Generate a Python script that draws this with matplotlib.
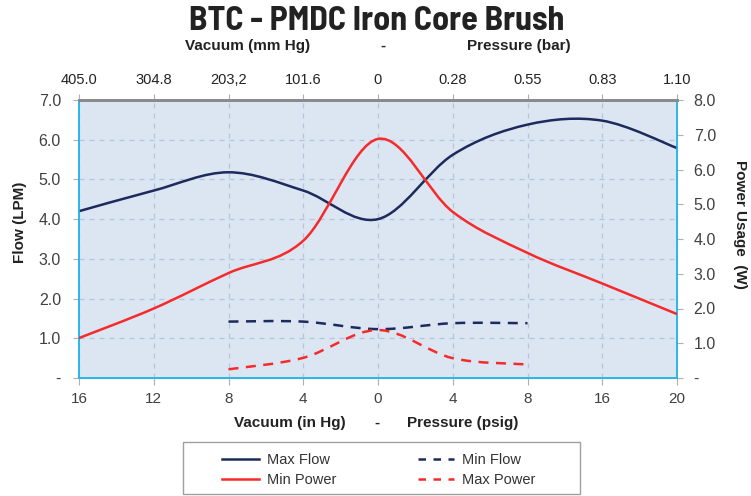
import matplotlib
matplotlib.use("Agg")
import matplotlib.pyplot as plt
from matplotlib.path import Path
from matplotlib.patches import PathPatch, Rectangle
from matplotlib.lines import Line2D
import numpy as np

# ---- data ----
bottom_labels = ["16", "12", "8", "4", "0", "4", "8", "16", "20"]
top_labels = ["405.0", "304.8", "203,2", "101.6", "0", "0.28", "0.55", "0.83", "1.10"]
positions = list(range(9))

max_flow = [4.2, 4.72, 5.18, 4.72, 4.0, 5.62, 6.38, 6.48, 5.79]          # LPM (left axis)
min_power = [1.15, 2.0, 3.02, 3.95, 6.88, 4.78, 3.6, 2.72, 1.84]         # W (right axis)
min_flow_pos = [2, 3, 4, 5, 6]
min_flow = [1.42, 1.42, 1.23, 1.38, 1.38]                                 # LPM (left axis)
max_power_pos = [2, 3, 4, 5, 6]
max_power = [0.25, 0.58, 1.38, 0.57, 0.39]                                # W (right axis)

NAVY = "#1c2a5c"
RED = "#f52a2a"
BG = "#dce6f2"
GRID = "#b3c6e0"
SPINE = "#29b6e8"
TXT = "#404040"
DARK = "#222222"

TITLEFONT = "Barlow Semi Condensed"
ARIAL = "Liberation Sans"


def smooth_path(xs, ys):
    pts = np.column_stack([xs, ys]).astype(float)
    n = len(pts)
    ext = np.vstack([pts[0], pts, pts[-1]])
    verts = [pts[0]]
    codes = [Path.MOVETO]
    for i in range(n - 1):
        p0, p1, p2, p3 = ext[i], ext[i + 1], ext[i + 2], ext[i + 3]
        c1 = p1 + (p2 - p0) / 6.0
        c2 = p2 - (p3 - p1) / 6.0
        verts += [c1, c2, p2]
        codes += [Path.CURVE4] * 3
    return Path(verts, codes)


W, H = 751, 496
fig = plt.figure(figsize=(W / 100, H / 100), dpi=100)
ax = fig.add_axes([79 / W, 1 - 378 / H, (677 - 79) / W, (378 - 100) / H])
ax2 = ax.twinx()

ax.set_facecolor(BG)
ax.set_xlim(0, 8)
ax.set_ylim(0, 7)
ax2.set_ylim(0, 8)

ax.set_xticks(positions)
ax.set_xticklabels(bottom_labels, fontsize=11, color=TXT, family=ARIAL)
ax.set_yticks(range(8))
ax.set_yticklabels(["-"] + [f"{v:.1f}" for v in range(1, 8)], fontsize=11.5, color=TXT, family=ARIAL)
ax2.set_yticks(range(9))
ax2.set_yticklabels(["-"] + [f"{v:.1f}" for v in range(1, 9)], fontsize=11.5, color=TXT, family=ARIAL)

ax.grid(True, color=GRID, linestyle=(0, (4, 4)), linewidth=0.9)
ax.set_axisbelow(True)

for a in (ax, ax2):
    for s in ("left", "right", "bottom"):
        a.spines[s].set_color(SPINE)
        a.spines[s].set_linewidth(1.2)
    a.spines["top"].set_color("#8a8a8a")
    a.spines["top"].set_linewidth(2)
ax.tick_params(axis="x", length=5, color="#b0b0b0", pad=5)
ax.tick_params(axis="y", length=4, color="#b0b0b0", pad=9)
ax2.tick_params(axis="y", length=4, color="#b0b0b0", pad=8)

# top axis
sec = ax.secondary_xaxis("top")
sec.set_xticks(positions)
sec.set_xticklabels(top_labels, fontsize=10.5, color=DARK, family=ARIAL)
sec.tick_params(length=4, color="#b0b0b0", pad=5)
sec.spines["top"].set_visible(False)

# lines
ax.add_patch(PathPatch(smooth_path(positions, max_flow), fill=False, edgecolor=NAVY, lw=1.8, zorder=3))
ax2.add_patch(PathPatch(smooth_path(positions, min_power), fill=False, edgecolor=RED, lw=1.8, zorder=3))
ax.add_patch(PathPatch(smooth_path(min_flow_pos, min_flow), fill=False, edgecolor=NAVY, lw=1.8,
                       linestyle=(0, (4, 3)), zorder=3))
ax2.add_patch(PathPatch(smooth_path(max_power_pos, max_power), fill=False, edgecolor=RED, lw=1.8,
                        linestyle=(0, (4, 3)), zorder=3))

# titles
fig.text(377 / W, 1 - 21 / H, "BTC - PMDC Iron Core Brush", ha="center", va="center",
         fontsize=24.5, fontweight="bold", family=TITLEFONT, color=DARK)
fig.text(248 / W, 1 - 46 / H, "Vacuum (mm Hg)", ha="center", va="center",
         fontsize=11, fontweight="bold", family=ARIAL, color=DARK)
fig.text(383 / W, 1 - 46 / H, "-", ha="center", va="center",
         fontsize=11, fontweight="bold", family=ARIAL, color=DARK)
fig.text(519 / W, 1 - 46 / H, "Pressure (bar)", ha="center", va="center",
         fontsize=11, fontweight="bold", family=ARIAL, color=DARK)

fig.text(290 / W, 1 - 423 / H, "Vacuum (in Hg)", ha="center", va="center",
         fontsize=11, fontweight="bold", family=ARIAL, color=DARK)
fig.text(377 / W, 1 - 423 / H, "-", ha="center", va="center",
         fontsize=11, fontweight="bold", family=ARIAL, color=DARK)
fig.text(463 / W, 1 - 423 / H, "Pressure (psig)", ha="center", va="center",
         fontsize=11, fontweight="bold", family=ARIAL, color=DARK)

fig.text(20 / W, 1 - 222 / H, "Flow (LPM)", ha="center", va="center", rotation=90,
         fontsize=11, fontweight="bold", family=ARIAL, color=DARK)
fig.text(740 / W, 1 - 224 / H, "Power Usage  (W)", ha="center", va="center", rotation=270,
         fontsize=11, fontweight="bold", family=ARIAL, color=DARK)

# legend
fig.add_artist(Rectangle((183 / W, 1 - 494 / H), (580 - 183) / W, (494 - 442) / H,
                         transform=fig.transFigure, fill=False, edgecolor="#a0a0a0", lw=1.0))
handles = [
    Line2D([], [], color=NAVY, lw=1.8, label="Max Flow"),
    Line2D([], [], color=RED, lw=1.8, label="Min Power"),
    Line2D([], [], color=NAVY, lw=1.8, linestyle=(0, (3, 3)), label="Min Flow"),
    Line2D([], [], color=RED, lw=1.8, linestyle=(0, (3, 3)), label="Max Power"),
]
leg = fig.legend(handles=handles, ncol=2, loc="center",
                 bbox_to_anchor=(379 / W, 1 - 470 / H),
                 frameon=False,
                 prop={"family": ARIAL, "size": 10.5}, handlelength=2.5,
                 columnspacing=5.6, labelspacing=0.4, borderpad=0.3, handletextpad=0.55)
for t in leg.get_texts():
    t.set_color("#333333")

fig.savefig("out.png", dpi=100)
